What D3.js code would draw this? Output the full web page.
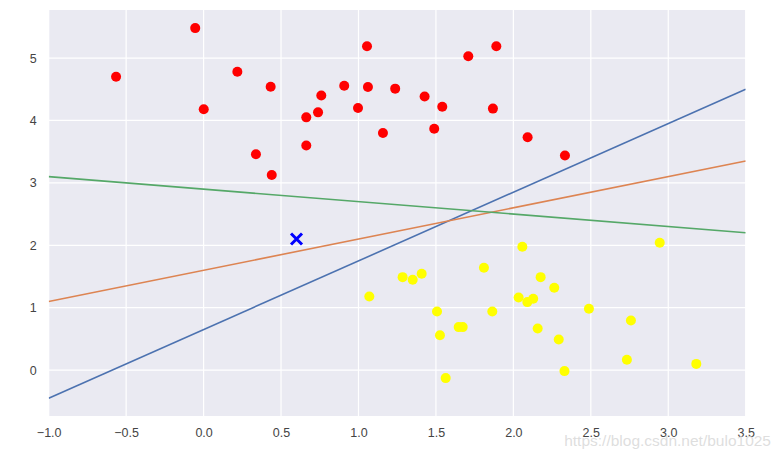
<!DOCTYPE html>
<html>
<head>
<meta charset="utf-8">
<script src="https://cdn.jsdelivr.net/npm/d3@7"></script>
<style>
  html, body { margin: 0; padding: 0; background: #ffffff; }
  svg { display: block; }
  text { font-family: "Liberation Sans", Arial, sans-serif; }
</style>
</head>
<body>
<svg id="chart" width="781" height="459"></svg>
<script>
// Class 0 (red) points
const redX = [-0.565, -0.054, 0.001, 0.218, 0.433, 0.338, 0.440, 0.663, 0.663, 0.739, 0.760, 0.908, 0.997, 1.055, 1.061, 1.158, 1.237, 1.427, 1.541, 1.489, 1.709, 1.890, 1.868, 2.092, 2.333];
const redY = [4.70, 5.48, 4.18, 4.78, 4.54, 3.46, 3.125, 4.05, 3.60, 4.13, 4.40, 4.556, 4.20, 5.19, 4.535, 3.80, 4.51, 4.385, 4.22, 3.867, 5.03, 5.19, 4.19, 3.73, 3.44];
// Class 1 (yellow) points
const yellowX = [1.070, 1.285, 1.350, 1.408, 1.507, 1.526, 1.563, 1.647, 1.673, 1.810, 1.864, 2.058, 2.034, 2.090, 2.128, 2.176, 2.264, 2.157, 2.293, 2.330, 2.488, 2.759, 2.733, 2.945, 3.181];
const yellowY = [1.18, 1.49, 1.447, 1.543, 0.94, 0.56, -0.128, 0.689, 0.689, 1.64, 0.94, 1.976, 1.164, 1.09, 1.143, 1.49, 1.32, 0.667, 0.49, -0.016, 0.982, 0.795, 0.165, 2.04, 0.10];
// Separating lines y = m*x + b
const lineSlopes = [1.1, 0.5, -0.2];
const lineIntercepts = [0.65, 1.6, 2.9];
const lineColors = ["#4C72B0", "#DD8452", "#55A868"];
// New point
const newPointX = [0.6];
const newPointY = [2.1];
// Axis ticks
const xTicks = [-1.0, -0.5, 0.0, 0.5, 1.0, 1.5, 2.0, 2.5, 3.0, 3.5];
const yTicks = [0, 1, 2, 3, 4, 5];
const xDomain = [-1, 3.5];
const yDomain = [-0.735, 5.77];

const svg = d3.select("#chart");
const L = 48.7, R = 745.7, T = 10, B = 416;
const x = d3.scaleLinear().domain(xDomain).range([L, R]);
const y = d3.scaleLinear().domain(yDomain).range([B, T]);

svg.append("rect").attr("x", L).attr("y", T).attr("width", R - L).attr("height", B - T).attr("fill", "#EAEAF2");

const g = svg.append("g");
g.selectAll(".gx").data(xTicks).join("line")
  .attr("x1", d => x(d)).attr("x2", d => x(d)).attr("y1", T).attr("y2", B)
  .attr("stroke", "#ffffff").attr("stroke-width", 1.2);
g.selectAll(".gy").data(yTicks).join("line")
  .attr("y1", d => y(d)).attr("y2", d => y(d)).attr("x1", L).attr("x2", R)
  .attr("stroke", "#ffffff").attr("stroke-width", 1.2);

// axes labels via d3 axes
const xAxis = d3.axisBottom(x).tickValues(xTicks).tickFormat(d3.format(".1f")).tickSize(0).tickPadding(12);
const yAxis = d3.axisLeft(y).tickValues(yTicks).tickFormat(d3.format("d")).tickSize(0).tickPadding(12);
const gx = svg.append("g").attr("transform", `translate(0,${B})`).call(xAxis);
const gy = svg.append("g").attr("transform", `translate(${L},0)`).call(yAxis);
[gx, gy].forEach(a => {
  a.select(".domain").remove();
  a.selectAll("text").attr("font-size", 12.5).attr("fill", "#444444")
    .attr("font-family", "'Liberation Sans', Arial, sans-serif");
});
gx.selectAll("text").text(d => d3.format(".1f")(d).replace("-", "\u2212"));

// clip
svg.append("clipPath").attr("id", "clip").append("rect")
  .attr("x", L).attr("y", T).attr("width", R - L).attr("height", B - T);
const plot = svg.append("g").attr("clip-path", "url(#clip)");

// points
const redData = redX.map((v, i) => [v, redY[i]]);
const yellowData = yellowX.map((v, i) => [v, yellowY[i]]);
plot.selectAll(".red").data(redData).join("circle")
  .attr("cx", d => x(d[0])).attr("cy", d => y(d[1])).attr("r", 5)
  .attr("fill", "#ff0000");
plot.selectAll(".yel").data(yellowData).join("circle")
  .attr("cx", d => x(d[0])).attr("cy", d => y(d[1])).attr("r", 5)
  .attr("fill", "#ffff00");

// lines
const line = d3.line().x(d => x(d[0])).y(d => y(d[1]));
lineSlopes.forEach((m, i) => {
  const b = lineIntercepts[i];
  const pts = xDomain.map(xx => [xx, m * xx + b]);
  plot.append("path").attr("d", line(pts)).attr("fill", "none")
    .attr("stroke", lineColors[i]).attr("stroke-width", 1.6);
});

// X marker
newPointX.forEach((px, i) => {
  const cx = x(px), cy = y(newPointY[i]), h = 5.5;
  plot.append("path")
    .attr("d", `M${cx - h},${cy - h}L${cx + h},${cy + h}M${cx - h},${cy + h}L${cx + h},${cy - h}`)
    .attr("stroke", "#0000ff").attr("stroke-width", 3).attr("fill", "none");
});

// watermark
svg.append("text").attr("x", 771).attr("y", 446).attr("text-anchor", "end")
  .attr("font-size", 15.5).attr("fill", "#d8d8d8").attr("fill-opacity", 0.85)
  .text("https://blog.csdn.net/bulo1025");
</script>
</body>
</html>
